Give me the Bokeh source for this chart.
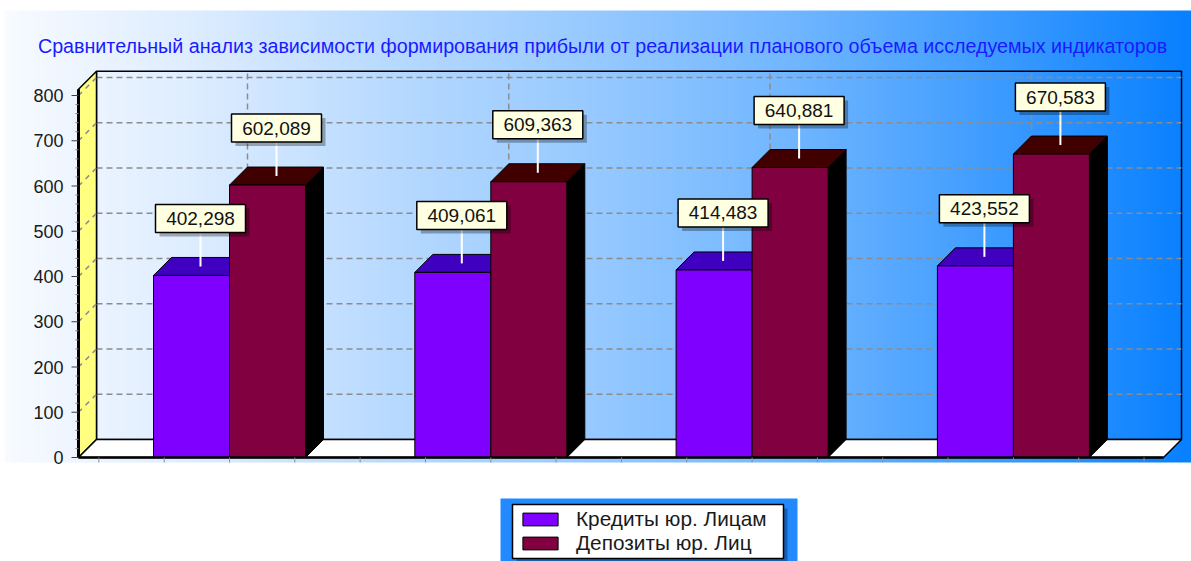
import numpy as np
from bokeh.plotting import figure
from bokeh.models import Range1d, Legend, LegendItem
from bokeh.core.properties import value
from bokeh.embed import file_html
from bokeh.resources import INLINE

# ---------------- data ----------------
title_text = ("Сравнительный анализ зависимости формирования прибыли "
              "от реализации планового объема исследуемых индикаторов")
series_names = ["Кредиты юр. Лицам", "Депозиты юр. Лиц"]
group_pos = [1, 2, 3, 4]
credits = [402.298, 409.061, 414.483, 423.552]
deposits = [602.089, 609.363, 640.881, 670.583]
y_ticks = [0, 100, 200, 300, 400, 500, 600, 700, 800]

# ---------------- geometry calibration ----------------
W, H = 1191, 561
OX, OY = 0, 0
CX1, CSTEP = 229.0, 261.3     # page x of first group centre, px per group
Y0, YS = 457.0, 0.4525        # page y of value 0, px per value unit

def u(px):
    return 1 + (px - CX1) / CSTEP

def v(py):
    return (Y0 - py) / YS

PXU = 1 / CSTEP
PXV = 1 / YS
DX = 18 * PXU
DY = 18 * PXV
A0, A1 = u(78), u(1163)
WALL_TOP = 814
BW = 76 * PXU

FONT = value("Liberation Sans")

p = figure(width=W, height=H, x_range=Range1d(u(OX), u(OX + W)),
           y_range=Range1d(v(OY + H), v(OY)), min_border=0,
           toolbar_location=None, output_backend="svg",
           x_axis_location=None, y_axis_location=None)
p.grid.visible = False
p.outline_line_color = None
p.background_fill_color = "white"
p.border_fill_color = "white"

# ---------------- background gradient ----------------
N = 400
t = np.linspace(0, 1, N)
st = [0, 1/6, 1/3, 1/2, 2/3, 5/6, 1]
R = np.interp(t, st, [248, 220, 182, 150, 112, 62, 8])
G = np.interp(t, st, [251, 236, 217, 201, 182, 156, 128])
img = np.empty((2, N), dtype=np.uint32)
view = img.view(dtype=np.uint8).reshape((2, N, 4))
view[:, :, 0] = R.astype(np.uint8)
view[:, :, 1] = G.astype(np.uint8)
view[:, :, 2] = 255
view[:, :, 3] = 255
p.image_rgba(image=[img], x=u(4), y=v(462), dw=(1191 - 4) * PXU, dh=(462 - 10) * PXV)

# legend backdrop region
p.quad(left=u(500), right=u(797), bottom=v(561), top=v(498),
       fill_color="#2389ff", line_color=None)

# ---------------- 3D box ----------------
p.quad(left=A0 + DX, right=A1 + DX, bottom=DY, top=WALL_TOP + DY,
       fill_alpha=0, line_color="black", line_width=1.5)
p.multi_line(xs=[[A0 + DX, A1 + DX] for _ in y_ticks[1:]],
             ys=[[tv + DY, tv + DY] for tv in y_ticks[1:]],
             line_color="#8c8c8c", line_width=1.5, line_dash="6 4")
p.multi_line(xs=[[c + DX, c + DX] for c in group_pos],
             ys=[[DY, WALL_TOP + DY] for _ in group_pos],
             line_color="#8c8c8c", line_width=1.5, line_dash="6 4")
p.patch([A0, A0, A0 + DX, A0 + DX], [0, WALL_TOP, WALL_TOP + DY, DY],
        fill_color="#ffff80", line_color="black", line_width=1.5)
p.multi_line(xs=[[A0, A0 + DX] for _ in y_ticks[1:]],
             ys=[[tv, tv + DY] for tv in y_ticks[1:]],
             line_color="#8c8c8c", line_width=1.5, line_dash="5 5")
p.patch([A0, A1, A1 + DX, A0 + DX], [0, 0, DY, DY],
        fill_color="white", line_color="black", line_width=1.5)

# ---------------- bars ----------------
styles = [
    dict(front="#8000ff", top="#4000c0", side="#400080", shift=-1),
    dict(front="#800040", top="#400000", side="#000000", shift=0),
]
front_renderers = []
for vals, st_ in zip([credits, deposits], styles):
    x0 = [c + st_["shift"] * BW for c in group_pos]
    x1 = [a + BW for a in x0]
    p.patches(xs=[[b, b, b + DX, b + DX] for b in x1],
              ys=[[0, h, h + DY, DY] for h in vals],
              fill_color=st_["side"], line_color="black", line_width=1)
    p.patches(xs=[[a, b, b + DX, a + DX] for a, b in zip(x0, x1)],
              ys=[[h, h, h + DY, h + DY] for h in vals],
              fill_color=st_["top"], line_color="black", line_width=1)
    r = p.quad(left=x0, right=x1, bottom=0, top=vals,
               fill_color=st_["front"], line_color="black", line_width=1)
    front_renderers.append(r)

# ---------------- axes ----------------
p.line([A0, A0], [0, WALL_TOP], line_color="black", line_width=3)
p.line([A0, A1], [0, 0], line_color="black", line_width=2.5)
minor = [m for m in range(0, 801, 20) if m % 100 != 0]
p.multi_line(xs=[[A0 - 3 * PXU, A0] for _ in minor], ys=[[m, m] for m in minor],
             line_color="#808080", line_width=1)
p.multi_line(xs=[[A0 - 7 * PXU, A0] for _ in y_ticks], ys=[[tv, tv] for tv in y_ticks],
             line_color="#404040", line_width=1.2)
xt = [0.5 + 0.25 * k for k in range(17)]
p.multi_line(xs=[[x, x] for x in xt], ys=[[0, -5 * PXV] for _ in xt],
             line_color="#909090", line_width=1)
p.text(x=[A0 - 15 * PXU] * len(y_ticks), y=y_ticks, text=[str(tv) for tv in y_ticks],
       text_align="right", text_baseline="middle", text_font=FONT,
       text_font_size="18px", text_color="#1a1a1a")

# ---------------- value labels ----------------
for vals, st_ in zip([credits, deposits], styles):
    ax = [c + st_["shift"] * BW + BW / 2 + DX / 2 for c in group_pos]
    ay = [h + DY / 2 for h in vals]
    p.multi_line(xs=[[x, x] for x in ax], ys=[[y, y + 34 * PXV] for y in ay],
                 line_color="white", line_width=2)
    by = [y + 48 * PXV for y in ay]
    p.rect(x=[x + 4 * PXU for x in ax], y=[y - 4 * PXV for y in by], width=90, height=28,
           width_units="screen", height_units="screen",
           fill_color="black", fill_alpha=0.3, line_color=None)
    p.rect(x=ax, y=by, width=90, height=28, width_units="screen", height_units="screen",
           fill_color="#ffffe1", line_color="black", line_width=1.5)
    p.text(x=ax, y=by, text=[f"{h:.3f}".replace(".", ",") for h in vals],
           text_align="center", text_baseline="middle", text_font=FONT,
           text_font_size="19px", text_color="#111111")

# ---------------- title ----------------
p.text(x=[u(602)], y=[v(45)], text=[title_text], text_align="center",
       text_baseline="middle", text_font=FONT, text_font_size="19.7px",
       text_color="#1a1aff")

# ---------------- legend ----------------
p.quad(left=u(516), right=u(787), top=v(508), bottom=v(562),
       fill_color="black", fill_alpha=0.3, line_color=None)
p.quad(left=u(512), right=u(783), top=v(504), bottom=v(558),
       fill_color="white", line_color="black", line_width=1.5)
legend = Legend(items=[LegendItem(label=n, renderers=[r])
                       for n, r in zip(series_names, front_renderers)],
                location=(518, 6), orientation="vertical",
                background_fill_alpha=0, border_line_color=None,
                padding=4, spacing=-2, margin=0,
                glyph_width=44, glyph_height=16, label_height=16,
                label_standoff=14, label_text_font="Liberation Sans",
                label_text_font_size="20.8px", label_text_color="#1a1a1a")
p.add_layout(legend)

open("out.html", "w").write(file_html(p, INLINE))
